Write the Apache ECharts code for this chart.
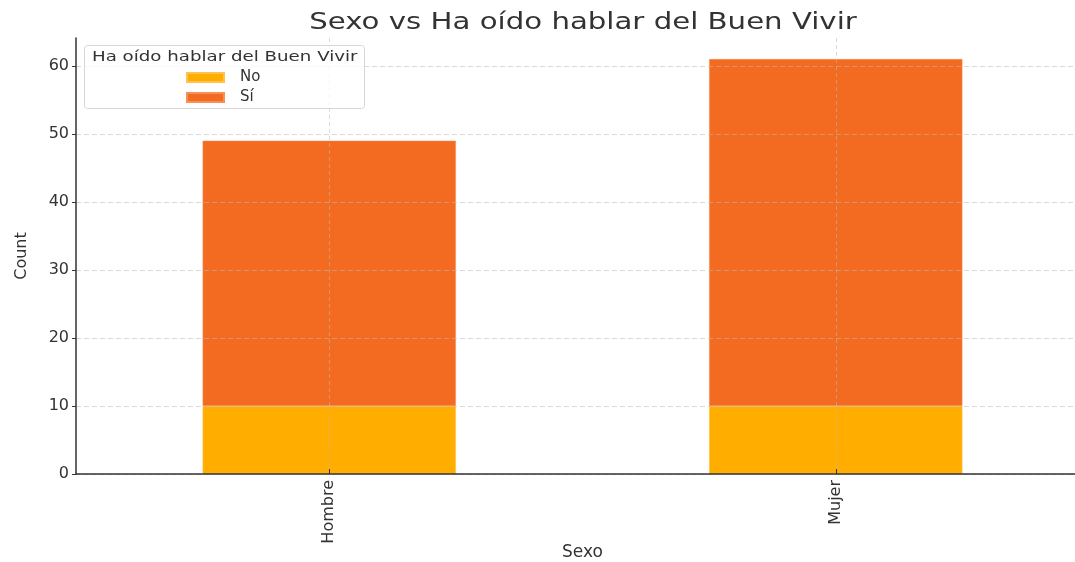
<!DOCTYPE html>
<html>
<head>
<meta charset="utf-8">
<script src="https://cdn.jsdelivr.net/npm/echarts@6/dist/echarts.min.js"></script>
<style>
  html, body { margin: 0; padding: 0; background: #fff; }
  #main { width: 1075px; height: 562px; }
</style>
</head>
<body>
<div id="main"></div>
<script>
  // datos
  const categories = ['Hombre', 'Mujer'];
  const seriesNames = ['No', 'Sí'];
  const noValues = [10, 10];
  const siValues = [39, 51];
  const yTicks = [0, 10, 20, 30, 40, 50, 60];

  const chart = echarts.init(document.getElementById('main'));
  const font = 'DejaVu Sans';
  const gridColor = 'rgba(185,185,185,0.55)';

  chart.setOption({
    animation: false,
    textStyle: { fontFamily: font },
    color: ['#FFAE00', '#F26B21'],
    graphic: [
      {
        // título (texto estirado como en la imagen original)
        type: 'text',
        x: 583, y: 23.5,
        scaleX: 1.27,
        style: {
          text: 'Sexo vs Ha oído hablar del Buen Vivir',
          font: '23px "DejaVu Sans"', fill: '#333',
          textAlign: 'center', textVerticalAlign: 'middle'
        }
      },
      {
        type: 'rect',
        left: 84, top: 45,
        shape: { width: 280, height: 63, r: 3 },
        style: { fill: 'rgba(255,255,255,0.8)', stroke: '#d6d6d6', lineWidth: 1 },
        z: 100
      },
      {
        type: 'text',
        x: 92, y: 57.5,
        scaleX: 1.3,
        style: {
          text: 'Ha oído hablar del Buen Vivir',
          font: '14px "DejaVu Sans"', fill: '#333',
          textAlign: 'left', textVerticalAlign: 'middle'
        },
        z: 101
      }
    ],
    legend: {
      data: seriesNames,
      orient: 'vertical',
      left: 186,
      top: 70,
      padding: 0,
      itemWidth: 37,
      itemHeight: 9,
      itemGap: 5,
      icon: 'rect',
      z: 102,
      textStyle: { fontFamily: font, fontSize: 15, color: '#333', padding: [0, 0, 0, 11] }
    },
    grid: {
      left: 76,
      top: 38,
      bottom: 88,
      width: 1013,
      containLabel: false,
      outerBoundsMode: 'none'
    },
    xAxis: {
      type: 'category',
      data: categories,
      z: 5,
      name: 'Sexo',
      nameLocation: 'middle',
      nameGap: 70,
      nameMoveOverlap: false,
      nameTextStyle: { fontFamily: font, fontSize: 17, color: '#333' },
      axisLine: { lineStyle: { color: '#333', width: 1.5 } },
      axisTick: { show: true, alignWithLabel: true, inside: true, length: 5, lineStyle: { color: '#333' } },
      axisLabel: { rotate: 90, fontFamily: font, fontSize: 16, color: '#333', margin: 6 },
      splitLine: {
        show: true,
        alignWithLabel: true,
        lineStyle: { type: [4, 3], color: gridColor, width: 1 }
      }
    },
    yAxis: {
      type: 'value',
      min: 0,
      max: 64.1,
      interval: 10,
      z: 5,
      name: 'Count',
      nameLocation: 'middle',
      nameGap: 46,
      nameMoveOverlap: false,
      nameTextStyle: { fontFamily: font, fontSize: 16, color: '#333' },
      axisLine: { show: true, lineStyle: { color: '#333', width: 1.5 } },
      axisTick: { show: true, length: 4, lineStyle: { color: '#333' } },
      axisLabel: {
        fontFamily: font, fontSize: 16, color: '#333', margin: 7,
        showMaxLabel: false,
        formatter: function (v) { return yTicks.indexOf(v) >= 0 ? String(v) : ''; }
      },
      splitLine: { show: true, showMaxLine: false, lineStyle: { type: [5, 3], color: gridColor, width: 1 } }
    },
    series: [
      {
        name: seriesNames[0],
        type: 'bar',
        stack: 'total',
        barWidth: '50%',
        data: noValues,
        itemStyle: { borderColor: '#FFC34D', borderWidth: 0.5 }
      },
      {
        name: seriesNames[1],
        type: 'bar',
        stack: 'total',
        barWidth: '50%',
        data: siValues,
        itemStyle: { borderColor: '#F5905A', borderWidth: 0.5 }
      }
    ]
  });
</script>
</body>
</html>
